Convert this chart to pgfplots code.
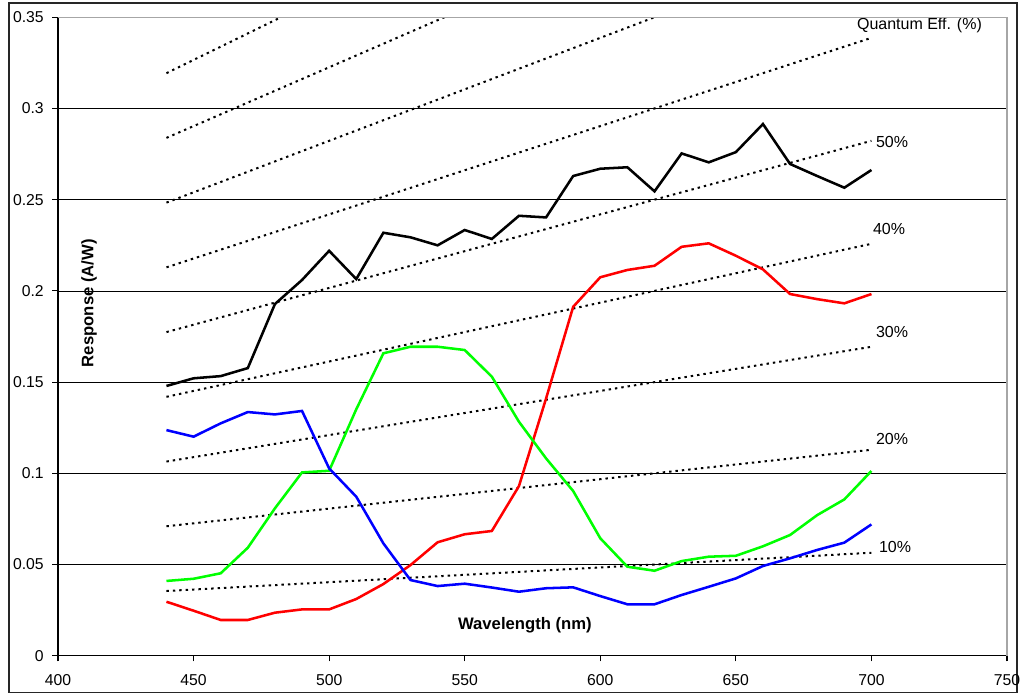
\documentclass[border=0pt]{standalone}
\usepackage{pgfplots}
\pgfplotsset{compat=1.18}
\usepackage{fontspec}
\setmainfont{Liberation Sans}
\definecolor{cred}{RGB}{255,0,0}
\definecolor{cgreen}{RGB}{0,255,0}
\definecolor{cblue}{RGB}{0,0,255}
\begin{document}
\begin{tikzpicture}[x=1pt,y=1pt]
\path[use as bounding box] (0,0) rectangle (765.75,520.5);
\draw[line width=0.9pt, black!85] (6.75,1.0) rectangle (762.75,518.25);
\begin{axis}[
  at={(43.5pt,28.7pt)}, anchor=south west,
  scale only axis, width=711.75pt, height=478.8pt,
  xmin=400, xmax=750, ymin=0, ymax=0.35,
  xtick={400,450,500,550,600,650,700,750},
  ytick={0,0.05,0.1,0.15,0.2,0.25,0.3,0.35},
  axis x line*=bottom, axis y line*=left,
  axis line style={-, black, line width=0.8pt},
  tick align=outside, major tick length=4.2pt,
  tick style={black, line width=0.8pt},
  ymajorgrids, major grid style={black, line width=0.6pt},
  /pgf/number format/assume math mode=true,
  /pgf/number format/fixed, /pgf/number format/precision=2,
  ticklabel style={font=\fontsize{11.8}{14}\selectfont},
  yticklabel style={xshift=-3pt},
  xticklabel style={yshift=-6.5pt},
  after end axis/.code={\draw[gray!70, line width=0.9pt] (rel axis cs:0,1) -- (rel axis cs:1,1) -- (rel axis cs:1,0);},
]
% Quantum efficiency lines (10% ... 90%)
\pgfplotsset{qe/.style={black, line width=1.5pt, dash pattern=on 1.8pt off 3.0pt}}
\addplot[qe] coordinates {(440,0.03549) (700,0.05646)};
\addplot[qe] coordinates {(440,0.07098) (700,0.11292)};
\addplot[qe] coordinates {(440,0.10646) (700,0.16938)};
\addplot[qe] coordinates {(440,0.14195) (700,0.22584)};
\addplot[qe] coordinates {(440,0.17744) (700,0.28230)};
\addplot[qe] coordinates {(440,0.21293) (700,0.33876)};
\addplot[qe] coordinates {(440,0.24842) (700,0.39521)};
\addplot[qe] coordinates {(440,0.28391) (700,0.45167)};
\addplot[qe] coordinates {(440,0.31939) (700,0.50813)};
% Black
\addplot[black, line width=1.9pt] coordinates {
(440,0.1479) (450,0.1521) (460,0.1533) (470,0.1577) (480,0.1928) (490,0.2060)
(500,0.2220) (510,0.2065) (520,0.2319) (530,0.2294) (540,0.2250) (550,0.2334)
(560,0.2285) (570,0.2412) (580,0.2403) (590,0.2630) (600,0.2670) (610,0.2678)
(620,0.2546) (630,0.2754) (640,0.2705) (650,0.2761) (660,0.2915) (670,0.2696)
(680,0.2630) (690,0.2566) (700,0.2663)};
% Red
\addplot[cred, line width=1.9pt] coordinates {
(440,0.0296) (450,0.0247) (460,0.0196) (470,0.0196) (480,0.0236) (490,0.0254)
(500,0.0254) (510,0.0311) (520,0.0393) (530,0.0497) (540,0.0622) (550,0.0666)
(560,0.0684) (570,0.0930) (580,0.1410) (590,0.1913) (600,0.2075) (610,0.2115)
(620,0.2138) (630,0.2242) (640,0.2261) (650,0.2193) (660,0.2118) (670,0.1983)
(680,0.1955) (690,0.1932) (700,0.1983)};
% Green
\addplot[cgreen, line width=1.9pt] coordinates {
(440,0.0410) (450,0.0422) (460,0.0452) (470,0.0592) (480,0.0808) (490,0.1005)
(500,0.1014) (510,0.1351) (520,0.1658) (530,0.1694) (540,0.1694) (550,0.1676)
(560,0.1530) (570,0.1283) (580,0.1082) (590,0.0903) (600,0.0644) (610,0.0488)
(620,0.0466) (630,0.0519) (640,0.0543) (650,0.0548) (660,0.0600) (670,0.0662)
(680,0.0771) (690,0.0857) (700,0.1013)};
% Blue
\addplot[cblue, line width=1.9pt] coordinates {
(440,0.1237) (450,0.1201) (460,0.1274) (470,0.1336) (480,0.1323) (490,0.1342)
(500,0.1027) (510,0.0872) (520,0.0616) (530,0.0415) (540,0.0382) (550,0.0395)
(560,0.0374) (570,0.0351) (580,0.0370) (590,0.0375) (600,0.0327) (610,0.0282)
(620,0.0282) (630,0.0333) (640,0.0378) (650,0.0424) (660,0.0492) (670,0.0534)
(680,0.0580) (690,0.0620) (700,0.0720)};
% Labels
\node[anchor=west, inner sep=0pt, font=\fontsize{12}{14}\selectfont] at (axis cs:694.6,0.3457) {Quantum Eff. (\%)};
\node[anchor=west, inner sep=0pt, font=\fontsize{12}{14}\selectfont] at (axis cs:701.6,0.2816) {50\%};
\node[anchor=west, inner sep=0pt, font=\fontsize{12}{14}\selectfont] at (axis cs:700.5,0.2339) {40\%};
\node[anchor=west, inner sep=0pt, font=\fontsize{12}{14}\selectfont] at (axis cs:701.6,0.1775) {30\%};
\node[anchor=west, inner sep=0pt, font=\fontsize{12}{14}\selectfont] at (axis cs:701.6,0.1188) {20\%};
\node[anchor=west, inner sep=0pt, font=\fontsize{12}{14}\selectfont] at (axis cs:702.7,0.0596) {10\%};
\node[font=\bfseries\fontsize{12.5}{14}\selectfont] at (axis cs:572.2,0.0168) {Wavelength (nm)};
\node[rotate=90, font=\bfseries\fontsize{12.5}{14}\selectfont] at (axis cs:411.5,0.1933) {Response (A/W)};
\end{axis}
\end{tikzpicture}
\end{document}
